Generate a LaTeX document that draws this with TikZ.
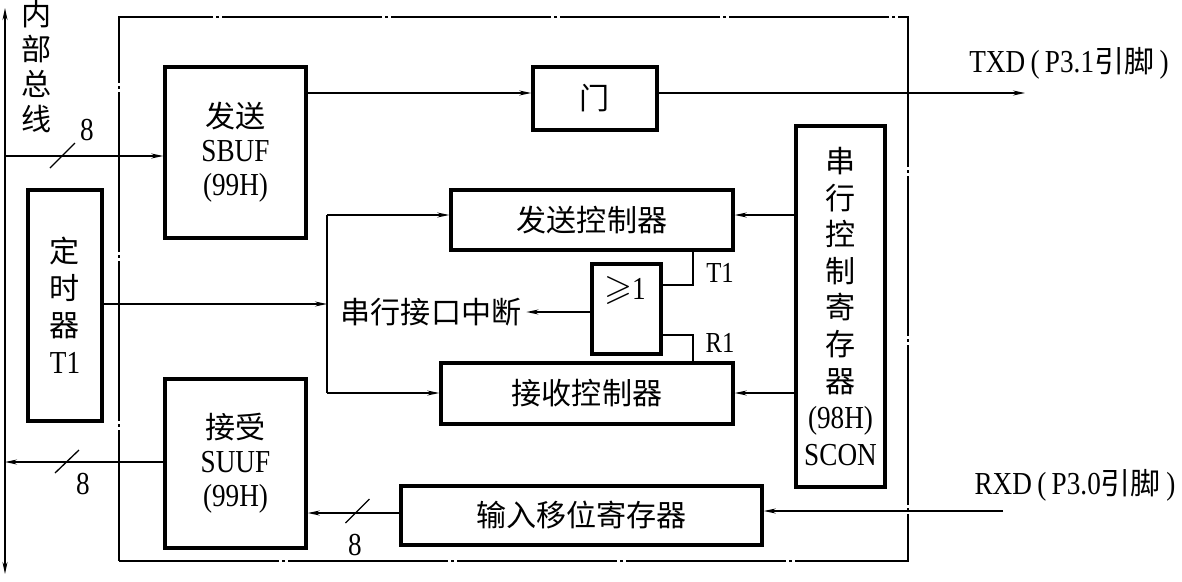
\documentclass[tikz,border=0pt]{standalone}
\usepackage{amssymb}
\usepackage{fontspec}
\setmainfont[FakeStretch=0.85]{Liberation Serif}
\newfontfamily\cjk[Scale=0.94]{Noto Sans CJK SC}
\usetikzlibrary{arrows.meta,calc}
\newcommand\zh[1]{{\cjk #1}}
\tikzset{
  box/.style={draw, line width=3.5pt, inner sep=0pt, align=center, font=\fontsize{32}{34}\selectfont},
  ln/.style={line width=1.3pt},
  arr/.style={ln, -{Stealth[length=12pt,width=5pt]}},
  txt/.style={inner sep=0pt, align=center, font=\fontsize{32}{34}\selectfont},
  frameline/.style={draw, line width=1.3pt, dash pattern=on 160pt off 3pt on 3pt off 3pt},
}
\begin{document}
\begin{tikzpicture}[x=1pt,y=-1pt]
\useasboundingbox (0,0) rectangle (1182,581);
% outer frame
\node (frame) [frameline, minimum width=789pt, minimum height=544pt, inner sep=0pt] at (513.5,289) {};
% boxes
\node (sbuf) [box, minimum width=141pt, minimum height=171pt] at (235.5,152.5) {\zh{发送}\\SBUF\\(99H)};
\node (gate) [box, minimum width=124pt, minimum height=63pt] at (595,98.5) {\zh{门}};
\node (timer) [box, minimum width=74pt, minimum height=231pt, font=\fontsize{32}{37}\selectfont] at (65,305.5) {\zh{定}\\\zh{时}\\\zh{器}\\T1};
\node (sendc) [box, minimum width=282pt, minimum height=60pt] at (592,220) {\zh{发送控制器}};
\node (recvc) [box, minimum width=292pt, minimum height=61pt] at (587,393.5) {\zh{接收控制器}};
\node (orgate) [box, minimum width=69pt, minimum height=90pt] at (626.5,309) {};
\node (orlab) [txt] at (625,290) {{\fontsize{36}{36}\selectfont$\geqslant$}1};
\node (scon) [box, minimum width=89pt, minimum height=361pt, font=\fontsize{32}{36.6}\selectfont] at (840.5,306.5) {\zh{串}\\\zh{行}\\\zh{控}\\\zh{制}\\\zh{寄}\\\zh{存}\\\zh{器}\\(98H)\\SCON};
\node (shift) [box, minimum width=361pt, minimum height=59pt] at (581.5,515.5) {\zh{输入移位寄存器}};
\node (suuf) [box, minimum width=141pt, minimum height=169pt] at (235.5,463.5) {\zh{接受}\\SUUF\\(99H)};
% text labels
\node (bus) [txt, font=\fontsize{32}{35}\selectfont] at (37,67) {\zh{内}\\\zh{部}\\\zh{总}\\\zh{线}};
\node (intr) [txt, inner xsep=5pt] at (431,312) {\zh{串行接口中断}};
\node (txdl) [txt] at (1069,63) {TXD\,(\,P3.1\zh{引脚}\,)};
\node (rxdl) [txt] at (1075,485) {RXD\,(\,P3.0\zh{引脚}\,)};
\node (t1l) [txt, font=\fontsize{29}{34}\selectfont] at (720,273) {T1};
\node (r1l) [txt, font=\fontsize{29}{34}\selectfont] at (720,343) {R1};
\node (n1) [txt] at (87,130) {8};
\node (n2) [txt] at (83,484) {8};
\node (n3) [txt] at (355,545) {8};
% helper coordinates
\coordinate (bustop) at (5,8);
\coordinate (busbot) at (5,574);
\coordinate (yin) at (0,156);
\coordinate (yt) at (0,93);
\coordinate (ys) at (0,215);
\coordinate (yr) at (0,393);
\coordinate (yl) at (0,462);
\coordinate (yb) at (0,513);
\coordinate (split) at (327,304);
\coordinate (txd) at (1025,93);
\coordinate (rxd) at (1003,511);
\coordinate (t1c) at (693,285);
\coordinate (r1c) at (693,335);
% bus
\draw[ln, {Stealth[length=12pt,width=5pt]}-{Stealth[length=12pt,width=5pt]}] (bustop) -- (busbot);
% connectors
\draw[arr] (bustop |- yin) -- (sbuf.west |- yin);
\draw[ln] (62.5,155.5) ++(-12.5,12.5) -- ++(25,-25);
\draw[arr] (sbuf.east |- yt) -- (gate.west |- yt);
\draw[arr] (gate.east |- yt) -- (txd);
\draw[arr] (timer.east |- split) -- (split);
\draw[ln] (split |- ys) -- (split |- yr);
\draw[arr] (split |- ys) -- (sendc.west |- ys);
\draw[arr] (split |- yr) -- (recvc.west |- yr);
\draw[arr] (orgate.west |- intr) -- (intr.east);
\draw[ln] (sendc.south -| t1c) -- (t1c) -- (t1c -| orgate.east);
\draw[ln] (r1c -| orgate.east) -- (r1c) -- (recvc.north -| r1c);
\draw[arr] (scon.west |- ys) -- (sendc.east |- ys);
\draw[arr] (scon.west |- yr) -- (recvc.east |- yr);
\draw[arr] (rxd) -- (rxd -| shift.east);
\draw[arr] (shift.west |- yb) -- (suuf.east |- yb);
\draw[ln] (357.5,511) ++(-12,12) -- ++(24,-24);
\draw[arr] (suuf.west |- yl) -- (bustop |- yl);
\draw[ln] (67,461.5) ++(-12,11.5) -- ++(24,-23);
\end{tikzpicture}
\end{document}
